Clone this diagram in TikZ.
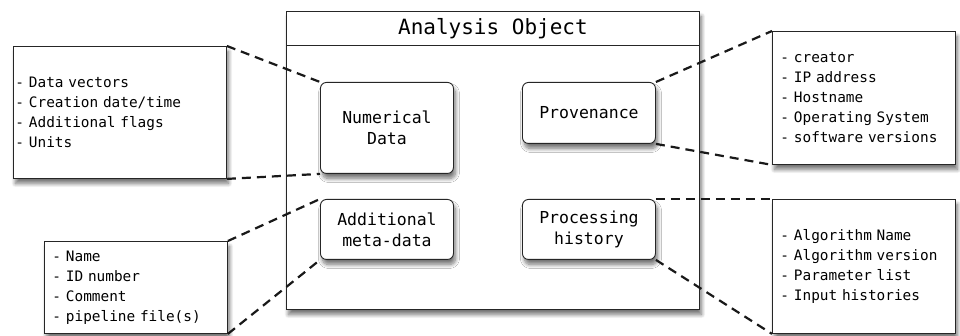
\documentclass[tikz,border=0pt]{standalone}
\usepackage{fontspec}
\setmonofont{DejaVu Sans Mono}[WordSpace={1,0,0}]
\usetikzlibrary{shadows.blur}

\tikzset{
  frame/.style={draw=black!85, line width=0.9pt, fill=white},
  softshadow/.style={blur shadow={shadow xshift=2pt, shadow yshift=-5pt, shadow blur steps=8, shadow blur radius=4pt, shadow opacity=55}},
  partbox/.style={frame, softshadow, rounded corners=6pt, align=center, anchor=north west, minimum width=133, inner sep=0pt, font=\ttfamily\fontsize{16.5}{21}\selectfont},
  listbox/.style={frame, softshadow, align=left, anchor=north west, inner xsep=8pt, inner ysep=0pt, font=\ttfamily\fontsize{14.4}{20}\selectfont},
  link/.style={black!90, line width=2.2pt, dash pattern=on 9pt off 6pt},
}

\begin{document}
\begin{tikzpicture}[x=1pt,y=1pt,yscale=-1,xscale=1]
\useasboundingbox (0,0) rectangle (960,336);

%Shape: Rectangle [analysis object]
\node[frame, softshadow, anchor=north west, minimum width=413, minimum height=298] (aobj) at (286,11) {};
% Text Node
\node[frame, anchor=north, minimum width=413, minimum height=34, inner sep=0pt, font=\ttfamily\fontsize{21}{25}\selectfont] (title) at (aobj.north) {Analysis Object};

%Rounded Rect [parts]
\node[partbox, minimum height=91] (numdata) at (320,82) {Numerical\\Data};
\node[partbox, minimum height=61] (prov) at (522,82) {Provenance};
\node[partbox, minimum height=60] (meta) at (320,199) {Additional\\meta-data};
\node[partbox, minimum height=60] (hist) at (522,199) {Processing\\history};

%Shape: Rectangle [lists]
\node[listbox, inner xsep=2pt, minimum width=213, minimum height=132, text width=209] (datalist) at (13,46) {- Data vectors\\- Creation date/time\\- Additional flags\\- Units};
\node[listbox, minimum width=183, minimum height=133, text width=167] (provlist) at (772,31) {- creator\\- IP address\\- Hostname\\- Operating System\\- software versions};
\node[listbox, minimum width=183, minimum height=92, text width=167] (metalist) at (44,241) {- Name\\- ID number\\- Comment\\- pipeline file(s)};
\node[listbox, minimum width=183, minimum height=134, text width=167] (histlist) at (772,199) {- Algorithm Name\\- Algorithm version\\- Parameter list\\- Input histories};

%Straight Lines [dashed links]
\draw[link] (datalist.north east) -- (numdata.north west);
\draw[link] (datalist.south east) -- (numdata.south west);
\draw[link] (metalist.north east) -- (meta.north west);
\draw[link] (metalist.south east) -- (meta.south west);
\draw[link] (prov.north east) -- (provlist.north west);
\draw[link] (prov.south east) -- (provlist.south west);
\draw[link] (hist.north east) -- (histlist.north west);
\draw[link] (hist.south east) -- (histlist.south west);

\end{tikzpicture}
\end{document}
